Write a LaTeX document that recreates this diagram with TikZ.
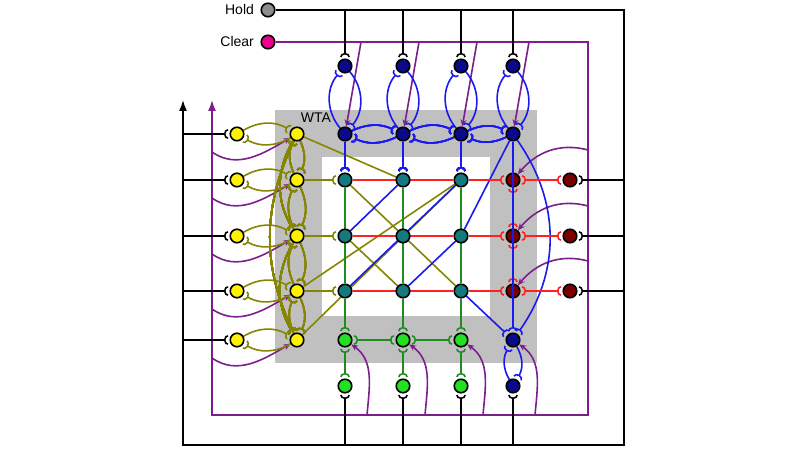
\documentclass[tikz,border=0pt]{standalone}
\usepackage{fontspec}
\setmainfont{Liberation Sans}
\usetikzlibrary{arrows.meta,calc}
\definecolor{boxgray}{HTML}{C0C0C0}
\definecolor{holdgray}{HTML}{8C8C8C}
\definecolor{navyc}{HTML}{0A0A8A}
\definecolor{tealc}{HTML}{157A80}
\definecolor{maroonc}{HTML}{7A0000}
\definecolor{limec}{HTML}{22E022}
\definecolor{olivec}{HTML}{858500}
\definecolor{purplec}{HTML}{7E1E8E}
\definecolor{bluec}{HTML}{1A1AF0}
\definecolor{redl}{HTML}{FF2020}
\definecolor{greenl}{HTML}{1E8C1E}
\pgfdeclarelayer{back}
\pgfdeclarelayer{edges}
\pgfsetlayers{back,edges,main}

\tikzset{every picture/.style={line width=1.6pt}}
\tikzset{every label/.style={font=\fontsize{14}{16}\selectfont}}
\tikzset{cell/.style={circle, draw=black, line width=1.6pt, minimum size=13.5pt, inner sep=0pt}}
\tikzset{syn/.style={-{Arc Barb[reversed,length=4pt,width=10pt]}, shorten >=1.5pt}}
\tikzset{syn2/.style={{Arc Barb[reversed,length=4pt,width=10pt]}-{Arc Barb[reversed,length=4pt,width=10pt]}, shorten >=1.5pt, shorten <=1.5pt}}
\tikzset{excite/.style={-{Stealth[length=7pt,width=6pt]}}}
\newcommand{\pairbend}[4]{\draw[syn,#4] (#1) to[bend left=#3] (#2); \draw[syn,#4] (#2) to[bend left=#3] (#1);}

\begin{document}
\begin{tikzpicture}[x=1pt,y=1pt]
    \useasboundingbox (0,0) rectangle (800,450);
    \begin{pgfonlayer}{back}
        \fill[boxgray] (275,87) rectangle (537,340);
        \fill[white] (322,134) rectangle (490,293);
    \end{pgfonlayer}
    \node[font=\fontsize{14}{16}\selectfont] (wta) at (316,332) {WTA};

    \node[cell, fill=holdgray, label={[label distance=3pt]left:Hold}] (hold) at (268,440) {};
    \node[cell, fill=magenta, label={[label distance=3pt]left:Clear}] (clear) at (268,408) {};

    \foreach \y [count=\i] in {316,270,214,159,110} {
        \node[cell, fill=yellow] (yin\i) at (237,\y) {};
        \node[cell, fill=yellow] (yw\i) at (297,\y) {};
    }
    \foreach \x [count=\j] in {345,403,461,513} {
        \node[cell, fill=navyc] (tin\j) at (\x,384) {};
        \node[cell, fill=navyc] (tw\j) at (\x,316) {};
    }
    \foreach \x [count=\j] in {345,403,461} {
        \foreach \y [count=\i] in {270,214,159}
            \node[cell, fill=tealc] (m\i\j) at (\x,\y) {};
        \node[cell, fill=limec] (bw\j) at (\x,110) {};
        \node[cell, fill=limec] (bo\j) at (\x,64) {};
    }
    \node[cell, fill=navyc] (bw4) at (513,110) {};
    \node[cell, fill=navyc] (bo4) at (513,64) {};
    \foreach \y [count=\i] in {270,214,159} {
        \node[cell, fill=maroonc] (rw\i) at (513,\y) {};
        \node[cell, fill=maroonc] (rin\i) at (570,\y) {};
    }

    \coordinate (blkne) at (624,440);
    \coordinate (blkse) at (624,5);
    \coordinate (blksw) at (183,5);
    \coordinate (blktip) at (183,350);
    \coordinate (purne) at (588,408);
    \coordinate (purse) at (588,35);
    \coordinate (pursw) at (212,35);
    \coordinate (purtip) at (212,350);

    \begin{pgfonlayer}{edges}
    \begin{scope}[line width=1.6pt]
    % hold and clear lines
    \draw[-{Latex[length=11pt,width=8pt]}] (hold) -- (blkne) -- (blkse) -- (blksw) -- (blktip);
    \draw[purplec, -{Latex[length=11pt,width=8pt]}] (clear) -- (purne) -- (purse) -- (pursw) -- (purtip);
    \foreach \j in {1,...,4} {
        \draw[syn] (tin\j |- hold) -- (tin\j);
        \draw[syn] (bo\j |- blkse) -- (bo\j);
        \draw[purplec, excite] ($(tw\j |- clear)+(16,0)$) -- (tw\j);
        \draw[purplec, excite] ($(bw\j |- pursw)+(22,0)$) to[out=85,in=-35] (bw\j);
    }
    \foreach \i in {1,...,5} {
        \draw[syn] (yin\i -| blksw) -- (yin\i);
        \draw[purplec, excite] ($(yw\i -| pursw)+(0,-18)$) to[out=-35,in=210] (yw\i);
    }
    \foreach \i in {1,2,3} {
        \draw[syn] (rin\i -| blkne) -- (rin\i);
        \draw[purplec, excite] ($(rw\i -| purse)+(0,30)$) to[out=165,in=50] (rw\i);
    }

    % yellow column
    \foreach \i in {1,...,5} \pairbend{yin\i}{yw\i}{30}{olivec}
    \foreach \i/\k in {1/2,2/3,3/4,4/5} \pairbend{yw\i}{yw\k}{25}{olivec}
    \foreach \i/\k/\b in {1/3/30,3/5/30,1/5/25}
        \draw[syn, olivec] (yw\i) to[bend right=\b] (yw\k);
    \foreach \i/\k in {1/2,2/3,3/4} \draw[syn, olivec] (yw\k) -- (m\i1);
    \draw[olivec] (yw1) -- (m12) (m11) -- (m33) (m21) -- (m32) (m13) -- (yw4) (m13) -- (yw5);

    % blue row and corner
    \foreach \j in {1,...,4} \pairbend{tin\j}{tw\j}{40}{bluec}
    \foreach \j/\k in {1/2,2/3,3/4} \pairbend{tw\j}{tw\k}{25}{bluec}
    \foreach \j in {1,2,3} \draw[syn, bluec] (tw\j) -- (m1\j);
    \draw[syn, bluec] (tw4) to[bend left=35] (bw4);
    \draw[bluec] (m21) -- (m12) (m31) -- (m13) (m32) -- (m23) (m23) -- (tw4);
    \draw[syn, bluec] (m33) -- (bw4);
    \pairbend{bw4}{bo4}{30}{bluec}

    % red column
    \foreach \i in {1,2,3} {
        \draw[redl] (m\i1) -- (m\i3);
        \draw[syn, redl] (m\i3) -- (rw\i);
        \draw[syn2, redl] (rw\i) -- (rin\i);
    }
    \draw[syn2, redl] (rw1) -- (rw2);
    \draw[syn2, redl] (rw2) -- (rw3);

    % green row
    \foreach \j in {1,2,3} {
        \draw[greenl] (m1\j) -- (m3\j);
        \draw[syn, greenl] (m3\j) -- (bw\j);
        \draw[syn2, greenl] (bw\j) -- (bo\j);
    }
    \draw[syn2, greenl] (bw1) -- (bw2);
    \draw[syn2, greenl] (bw2) -- (bw3);
    \end{scope}
    \end{pgfonlayer}

    \draw[syn, bluec, line width=1.6pt] (tw4) -- (bw4);
\end{tikzpicture}
\end{document}
